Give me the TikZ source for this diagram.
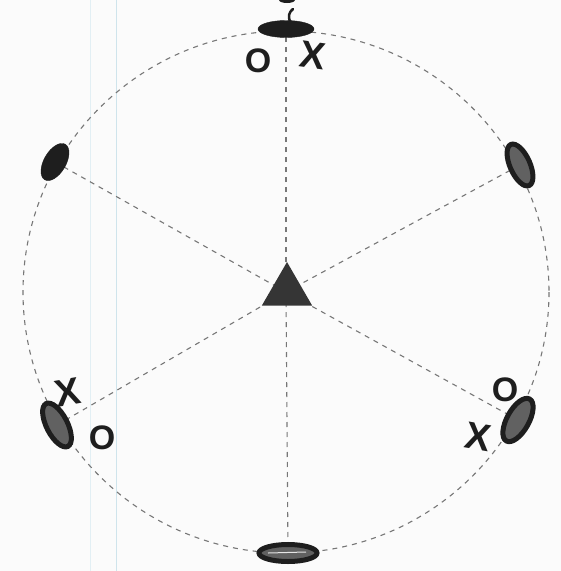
\documentclass[tikz,border=0pt]{standalone}
\usepackage{fontspec}
\setmainfont{Liberation Sans}
\usetikzlibrary{shapes.geometric}
\definecolor{ink}{HTML}{1E1E1E}
\definecolor{dashgray}{HTML}{777777}
\definecolor{paperline}{HTML}{CFE4EC}
\tikzset{
  spoke/.style={draw=dashgray, line width=1.1pt, dash pattern=on 5pt off 5pt},
  blob/.style={ellipse, fill=ink, draw=ink, inner sep=0pt},
  ring/.style={ellipse, fill=ink!70, draw=ink, line width=5pt, inner sep=0pt},
  omark/.style={text=ink, inner sep=0pt, font=\bfseries\fontsize{34}{34}\selectfont},
  xmark/.style={text=ink, inner sep=0pt, font=\bfseries\fontsize{38}{38}\selectfont}
}
\begin{document}
\begin{tikzpicture}[x=1pt,y=-1pt]
\useasboundingbox (0,0) rectangle (561,571);
\fill[white!97!gray] (0,0) rectangle (561,571);
% paper lines
\draw[paperline!60, line width=0.8pt] (90,0) -- (90,571);
\draw[paperline, line width=1pt] (116,0) -- (116,571);
% centre
\coordinate (c) at (286,292);
% markers (named, used as spoke ends)
\coordinate (top) at (286,29);
\coordinate (ul) at (55,162);
\coordinate (ur) at (520,165);
\coordinate (ll) at (57,425);
\coordinate (lr) at (518,420);
\coordinate (bot) at (288,553);
% circle and spokes
\draw[spoke] (c) ellipse [x radius=263, y radius=261];
\draw[spoke] (c) -- (top);
\draw[spoke] (c) -- (bot);
\draw[spoke] (c) -- (ul);
\draw[spoke] (c) -- (ur);
\draw[spoke] (c) -- (ll);
\draw[spoke] (c) -- (lr);
% markers on top
\node[blob, minimum width=56pt, minimum height=17pt] (ntop) at (top) {};
\node[blob, minimum width=41pt, minimum height=22pt, rotate=60] (nul) at (ul) {};
\node[ring, minimum width=45pt, minimum height=20pt, rotate=-66] (nur) at (ur) {};
\node[ring, minimum width=48pt, minimum height=21pt, rotate=-63] (nll) at (ll) {};
\node[ring, minimum width=48pt, minimum height=22pt, rotate=61] (nlr) at (lr) {};
\node[ring, minimum width=58pt, minimum height=17pt] (nbot) at (bot) {};
\draw[white!80!gray, line width=1pt] (268,553) -- (306,552);
\draw[ink, line width=2.5pt, line cap=round] (290,22) .. controls (288,16) and (289,12) .. (293,9);
\fill[ink] (287,0) ellipse [x radius=8, y radius=3];
% triangle
\node[draw=none, fill=ink!90, regular polygon, regular polygon sides=3, minimum size=58pt, inner sep=0pt] (tri) at (287,291) {};
% O and X marks
\node[omark] (o1) at (258,61) {O};
\node[xmark, rotate=-8] (x1) at (313,55) {X};
\node[xmark, rotate=10] (x2) at (68,392) {X};
\node[omark] (o2) at (102,438) {O};
\node[omark] (o3) at (505,390) {O};
\node[xmark, rotate=-10] (x3) at (478,437) {X};
\end{tikzpicture}
\end{document}
